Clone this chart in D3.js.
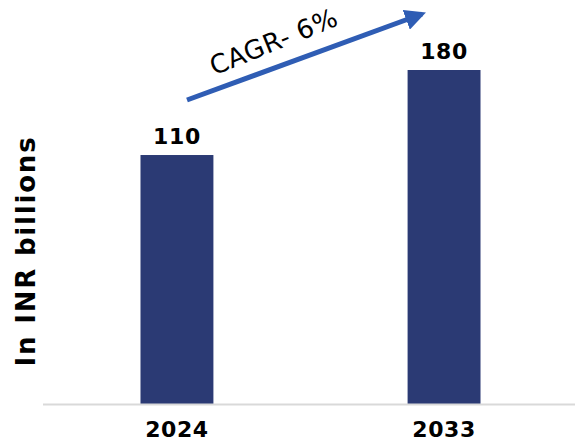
<!DOCTYPE html>
<html>
<head>
<meta charset="utf-8">
<script src="https://cdn.jsdelivr.net/npm/d3@7"></script>
<style>
  html, body { margin: 0; padding: 0; background: #fff; }
  svg { display: block; }
</style>
</head>
<body>
<svg id="chart" width="575" height="441"></svg>
<script>
// Market size, INR billions
const years = ["2024", "2033"];
const values = [110, 180];
const cagrLabel = "CAGR- 6%";
const axisTitle = "In INR billions";

const W = 575, H = 441;
const svg = d3.select("#chart");

const x = d3.scaleBand()
  .domain(years)
  .range([43, 578])
  .paddingInner(0.727)
  .paddingOuter(0.365);

// Value axis starts below zero so the smaller bar keeps a readable height
const yFloor = -95;
const y = d3.scaleLinear()
  .domain([yFloor, 180])
  .range([404, 70]);

const barColor = "#2b3a74";
const arrowColor = "#2f5db4";
const boldFont = "'DejaVu Sans', Verdana, sans-serif";

// Bars
svg.append("g")
  .selectAll("rect")
  .data(values)
  .join("rect")
  .attr("x", (d, i) => x(years[i]))
  .attr("y", d => y(d))
  .attr("width", x.bandwidth())
  .attr("height", d => y(yFloor) - y(d))
  .attr("fill", barColor);

// Baseline
svg.append("line")
  .attr("x1", 43).attr("x2", W)
  .attr("y1", 404.5).attr("y2", 404.5)
  .attr("stroke", "#d9d9d9")
  .attr("stroke-width", 2);

// Category labels
const xAxis = d3.axisBottom(x).tickSize(0).tickPadding(0);
const gx = svg.append("g")
  .attr("transform", "translate(0,404)")
  .call(xAxis);
gx.select(".domain").remove();
gx.selectAll("text")
  .attr("dy", null)
  .attr("y", 33)
  .attr("font-family", boldFont)
  .attr("font-weight", "bold")
  .attr("font-size", 22)
  .attr("letter-spacing", 0.6)
  .attr("fill", "#000");

// Value labels
svg.append("g")
  .selectAll("text")
  .data(values)
  .join("text")
  .attr("x", (d, i) => x(years[i]) + x.bandwidth() / 2)
  .attr("y", d => y(d) - 11)
  .attr("text-anchor", "middle")
  .attr("font-family", boldFont)
  .attr("font-weight", "bold")
  .attr("font-size", 22)
  .attr("letter-spacing", 0.6)
  .attr("fill", "#000")
  .text(d => d);

// Axis title
svg.append("text")
  .attr("transform", "translate(35,251) rotate(-90)")
  .attr("text-anchor", "middle")
  .attr("font-family", boldFont)
  .attr("font-weight", "bold")
  .attr("font-size", 26)
  .attr("letter-spacing", 1.8)
  .attr("fill", "#000")
  .text(axisTitle);

// Growth arrow
const defs = svg.append("defs");
defs.append("marker")
  .attr("id", "arrowHead")
  .attr("viewBox", "0 0 10 10")
  .attr("refX", 8).attr("refY", 5)
  .attr("markerWidth", 4.2).attr("markerHeight", 4.2)
  .attr("markerUnits", "strokeWidth")
  .attr("orient", "auto")
  .append("path")
  .attr("d", "M0,0 L10,5 L0,10 Z")
  .attr("fill", arrowColor);

const a0 = [187, 100], a1 = [422, 14];
svg.append("line")
  .attr("x1", a0[0]).attr("y1", a0[1])
  .attr("x2", a1[0]).attr("y2", a1[1])
  .attr("stroke", arrowColor)
  .attr("stroke-width", 5)
  .attr("marker-end", "url(#arrowHead)");

// CAGR label along the arrow
svg.append("text")
  .attr("transform", "translate(277,50) rotate(-22)")
  .attr("text-anchor", "middle")
  .attr("font-family", "'DejaVu Sans', Verdana, sans-serif")
  .attr("font-size", 26)
  .attr("letter-spacing", 0.5)
  .attr("fill", "#000")
  .text(cagrLabel);
</script>
</body>
</html>
